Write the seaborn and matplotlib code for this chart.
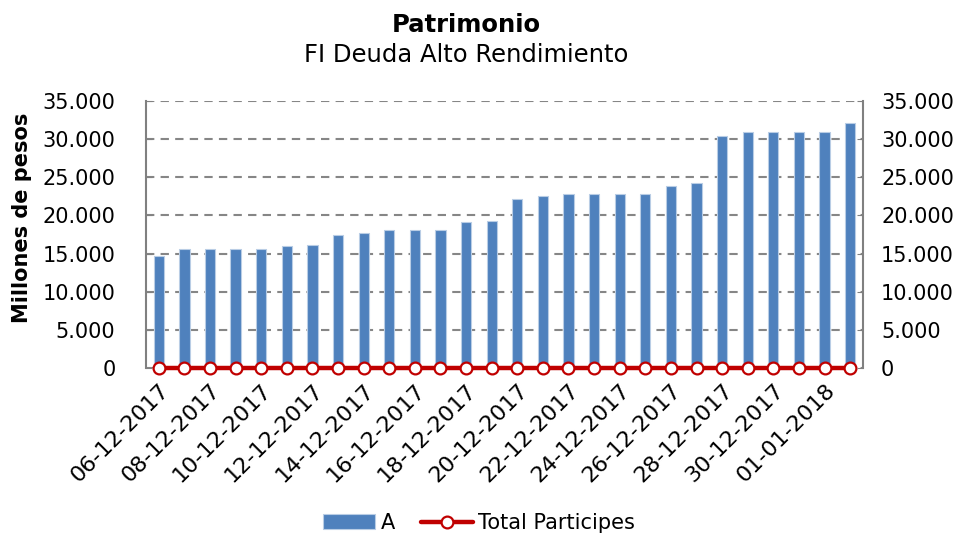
import numpy as np
import matplotlib
matplotlib.use("Agg")
import matplotlib.pyplot as plt
import seaborn as sns
from matplotlib.ticker import FuncFormatter

# Data
fechas = ["06-12-2017", "07-12-2017", "08-12-2017", "09-12-2017", "10-12-2017",
          "11-12-2017", "12-12-2017", "13-12-2017", "14-12-2017", "15-12-2017",
          "16-12-2017", "17-12-2017", "18-12-2017", "19-12-2017", "20-12-2017",
          "21-12-2017", "22-12-2017", "23-12-2017", "24-12-2017", "25-12-2017",
          "26-12-2017", "27-12-2017", "28-12-2017", "29-12-2017", "30-12-2017",
          "31-12-2017", "01-01-2018", "02-01-2018"]
serie_a = [14720, 15640, 15640, 15640, 15640, 16000, 16170, 17480, 17650, 18100,
           18100, 18100, 19160, 19240, 22130, 22530, 22790, 22790, 22790, 22790,
           23800, 24200, 30430, 30960, 30960, 30960, 30960, 32150]
total_participes = [0, 0, 0, 0, 0, 0, 0, 0, 0, 0, 0, 0, 0, 0,
                    0, 0, 0, 0, 0, 0, 0, 0, 0, 0, 0, 0, 0, 0]
y_ticks = [0, 5000, 10000, 15000, 20000, 25000, 30000, 35000]

sns.set_style("white")
plt.rcParams['font.family'] = ['DejaVu Sans']
plt.rcParams['text.color'] = 'black'
plt.rcParams['xtick.color'] = 'black'
plt.rcParams['ytick.color'] = 'black'

fig = plt.figure(figsize=(9.58, 5.39), dpi=100)
ax = fig.add_axes([0.1524, 0.3173, 0.7484, 0.4953])

pos = np.arange(len(fechas))
sns.barplot(x=pos, y=serie_a, ax=ax, color="#4F81BD", saturation=1, width=0.4,
            edgecolor="#B9CDE5", linewidth=0.8, zorder=2, label="A")
sns.lineplot(x=pos, y=total_participes, ax=ax, color="#C00000", linewidth=3.2,
             marker="o", markersize=8.5, markerfacecolor="white",
             markeredgecolor="#C00000", markeredgewidth=1.6, zorder=4,
             clip_on=False, label="Total Participes")

ax.set_xlim(-0.5, len(fechas) - 0.5)
ax.set_ylim(0, 35000)
ax.set_yticks(y_ticks)
fmt = FuncFormatter(lambda v, p: f"{int(v):,}".replace(",", "."))
ax.yaxis.set_major_formatter(fmt)
ax.grid(axis="y", color="#868686", linestyle=(0, (4, 3)), linewidth=1.5, zorder=0)
ax.set_axisbelow(True)

ax.set_xticks(pos[::2])
ax.set_xticklabels(fechas[::2], rotation=45, ha="right", rotation_mode="anchor")
ax.tick_params(axis="x", length=0, labelsize=16, pad=9)
ax.tick_params(axis="y", labelsize=15, length=4, color="#808080", direction="in",
               left=True, pad=22, labelcolor="black")
ax.set_xlabel("")
ax.set_ylabel("")

for s in ["top", "bottom", "right"]:
    ax.spines[s].set_visible(False)
ax.spines["left"].set_color("#808080")
ax.spines["left"].set_linewidth(1.5)

ax2 = ax.twinx()
ax2.set_ylim(0, 35000)
ax2.set_yticks(y_ticks)
ax2.yaxis.set_major_formatter(fmt)
ax2.tick_params(axis="y", labelsize=15, length=4, color="#808080", direction="in",
                right=True, pad=13, labelcolor="black")
for s in ["top", "bottom", "left"]:
    ax2.spines[s].set_visible(False)
ax2.spines["right"].set_color("#808080")
ax2.spines["right"].set_linewidth(1.5)

fig.text(0.487, 0.953, "Patrimonio", ha="center", va="center", fontsize=17.5, fontweight="bold")
fig.text(0.487, 0.898, "FI Deuda Alto Rendimiento", ha="center", va="center", fontsize=17.5)
fig.text(0.023, 0.5955, "Millones de pesos", rotation=90, ha="center", va="center",
         fontsize=15, fontweight="bold")

handles, labels = ax.get_legend_handles_labels()
if ax.legend_:
    ax.legend_.remove()
order = [labels.index("A"), labels.index("Total Participes")]
fig.legend([handles[i] for i in order], [labels[i] for i in order], loc="center",
           bbox_to_anchor=(0.5, 0.03), ncol=2, frameon=False, fontsize=15,
           handlelength=2.5, columnspacing=1.25, handletextpad=0.25,
           borderpad=0.1)

fig.savefig("out.png", dpi=100)
